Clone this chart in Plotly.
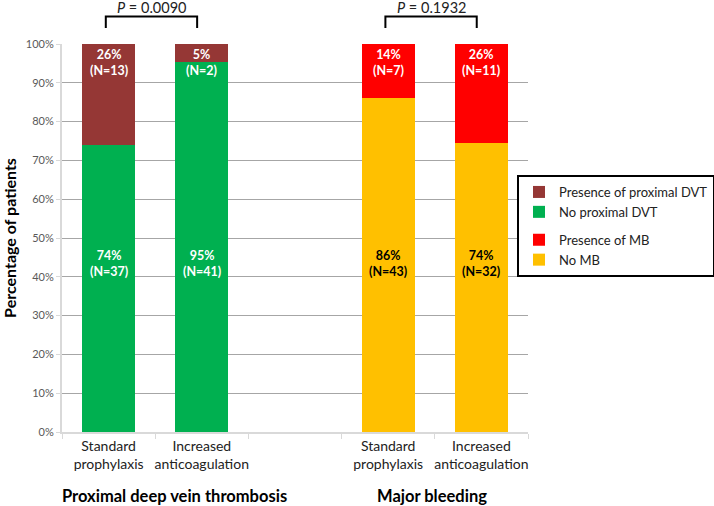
import plotly.graph_objects as go

# ---- data ----
x_pos = [0, 1, 3, 4]
tick_labels = ["Standard<br>prophylaxis", "Increased<br>anticoagulation",
               "Standard<br>prophylaxis", "Increased<br>anticoagulation"]
no_dvt = [74.0, 95.3]
dvt = [26.0, 4.7]
no_mb = [86.0, 74.4]
mb = [14.0, 25.6]
bottom_labels = ["74%<br>(N=37)", "95%<br>(N=41)", "86%<br>(N=43)", "74%<br>(N=32)"]
top_labels = ["26%<br>(N=13)", "5%<br>(N=2)", "14%<br>(N=7)", "26%<br>(N=11)"]
p_values = ["0.0090", "0.1932"]
group_titles = ["Proximal deep vein thrombosis", "Major bleeding"]

FONT = "Lato, Open Sans, sans-serif"
W = 0.57
FW, FH = 714, 506
PL, PR, PT, PB = 62, 528, 44, 432
PW, PH = PR - PL, PB - PT


def px(xp):
    return (xp - PL) / PW


def py(yp):
    return (PB - yp) / PH


fig = go.Figure()
fig.add_trace(go.Bar(x=x_pos[:2], y=no_dvt, name="No proximal DVT", marker_color="#00B050",
                     width=W, legendgroup="dvt", legendrank=2))
fig.add_trace(go.Bar(x=x_pos[:2], y=dvt, name="Presence of proximal DVT", marker_color="#953735",
                     width=W, legendgroup="dvt", legendrank=1))
fig.add_trace(go.Bar(x=x_pos[2:], y=no_mb, name="No MB", marker_color="#FFC000",
                     width=W, legendgroup="mb", legendrank=4))
fig.add_trace(go.Bar(x=x_pos[2:], y=mb, name="Presence of MB", marker_color="#FF0000",
                     width=W, legendgroup="mb", legendrank=3))
fig.update_traces(marker_line_width=0, hoverinfo="skip")

# value labels
for i, xv in enumerate(x_pos):
    fig.add_annotation(x=xv, y=43.5, text=f"<b>{bottom_labels[i]}</b>", showarrow=False,
                       font=dict(family=FONT, size=12.5, color="white" if i < 2 else "black"))
    fig.add_annotation(x=xv, y=100, yanchor="top", yshift=-1, text=f"<b>{top_labels[i]}</b>",
                       showarrow=False, font=dict(family=FONT, size=12.5, color="white"))

# p-value brackets
for k, (a, b) in enumerate([(x_pos[0], x_pos[1]), (x_pos[2], x_pos[3])]):
    a2, b2 = a - 0.03, b - 0.05
    fig.add_shape(type="path", xref="x", yref="paper",
                  path=f"M {a2},{py(28)} L {a2},{py(16.5)} L {b2},{py(16.5)} L {b2},{py(28)}",
                  line=dict(color="black", width=2))
    fig.add_annotation(x=(a2 + b2) / 2, xref="x", y=py(16.5), yref="paper",
                       xanchor="center", yanchor="bottom", borderpad=0,
                       text=f"<i>P</i> = {p_values[k]}", showarrow=False,
                       font=dict(family=FONT, size=14.5, color="#222"))

# group titles
for xc, t in zip([174, 432], group_titles):
    fig.add_annotation(x=px(xc), xref="paper", y=py(496), yref="paper",
                       xanchor="center", yanchor="middle",
                       text=f"<b>{t}</b>", showarrow=False,
                       font=dict(family=FONT, size=16.5, color="black"))

fig.update_layout(
    width=FW, height=FH,
    margin=dict(l=PL, r=FW - PR, t=PT, b=FH - PB, autoexpand=False),
    barmode="stack",
    plot_bgcolor="white", paper_bgcolor="white",
    font=dict(family=FONT),
    xaxis=dict(range=[-0.5, 4.5], tickvals=x_pos, ticktext=tick_labels, ticks="",
               automargin=False,
               tickfont=dict(family=FONT, size=14, color="#222"),
               showline=True, linecolor="#D9D9D9", linewidth=2, showgrid=False, zeroline=False,
               minor=dict(tickvals=[-0.5, 0.5, 1.5, 2.5, 3.5, 4.5], ticks="outside",
                          ticklen=5, tickcolor="#D9D9D9", tickwidth=1, showgrid=False)),
    yaxis=dict(range=[0, 100], dtick=10, ticksuffix="%", ticks="outside", ticklen=4,
               tickcolor="#D9D9D9", automargin=False,
               tickfont=dict(family=FONT, size=11, color="#595959"),
               showgrid=True, gridcolor="#A6A6A6", gridwidth=1,
               showline=True, linecolor="#D9D9D9", linewidth=2, zeroline=False,
               title=dict(text="<b>Percentage of patients</b>", font=dict(family=FONT, size=16, color="black"),
                          standoff=6)),
    legend=dict(x=px(517), xanchor="left", y=py(175), yanchor="top",
                bordercolor="black", borderwidth=2, bgcolor="white",
                traceorder="grouped", tracegroupgap=8,
                font=dict(family=FONT, size=13, color="#222")),
    showlegend=True,
)

fig.write_html("out.html", config={"displayModeBar": False},
               post_script="document.body.style.margin='0';document.body.style.overflow='hidden';")
